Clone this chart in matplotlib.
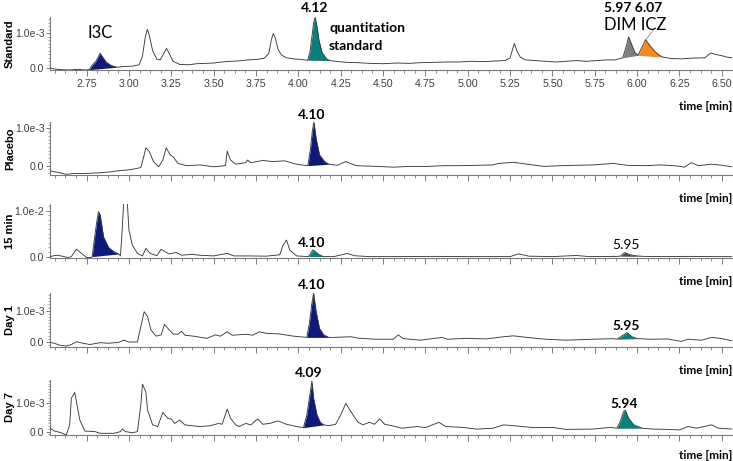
#!/usr/bin/env python
"""Stacked HPLC chromatograms: standard, placebo, 15 min, day 1, day 7."""

import matplotlib

matplotlib.use("Agg")
import matplotlib.pyplot as plt
import numpy as np
from matplotlib.ticker import FixedLocator, MultipleLocator

# signal in units of 1e-3 (15 min panel: 10 == 1.0e-2)
STANDARD_TRACE = [
    (2.53, 0.02), (2.56, -0.02), (2.60, -0.04), (2.65, -0.05), (2.70, -0.03), (2.74, -0.05),
    (2.765, -0.04), (2.785, 0.10), (2.805, 0.20), (2.818, 0.32), (2.830, 0.43), (2.845, 0.32),
    (2.865, 0.18), (2.895, 0.08), (2.93, 0.03), (2.97, 0.05), (3.02, 0.06), (3.06, 0.10),
    (3.08, 0.35), (3.095, 0.85), (3.108, 1.12), (3.12, 0.95), (3.14, 0.50), (3.165, 0.26),
    (3.185, 0.24), (3.205, 0.42), (3.222, 0.57), (3.24, 0.40), (3.26, 0.20), (3.30, 0.11),
    (3.35, 0.10), (3.40, 0.13), (3.45, 0.14), (3.50, 0.15), (3.55, 0.18), (3.60, 0.20),
    (3.65, 0.21), (3.70, 0.24), (3.75, 0.25), (3.80, 0.29), (3.825, 0.42), (3.840, 0.80),
    (3.852, 1.00), (3.865, 0.85), (3.88, 0.55), (3.90, 0.38), (3.93, 0.30), (3.97, 0.27),
    (4.02, 0.25), (4.055, 0.23), (4.068, 0.45), (4.080, 0.90), (4.090, 1.30), (4.099, 1.46),
    (4.110, 1.20), (4.122, 0.80), (4.140, 0.45), (4.165, 0.28), (4.185, 0.22), (4.22, 0.20),
    (4.28, 0.17), (4.35, 0.16), (4.42, 0.14), (4.50, 0.13), (4.58, 0.15), (4.65, 0.14),
    (4.72, 0.16), (4.80, 0.17), (4.88, 0.18), (4.95, 0.18), (5.02, 0.20), (5.10, 0.19),
    (5.17, 0.21), (5.22, 0.22), (5.25, 0.30), (5.265, 0.55), (5.275, 0.71), (5.29, 0.50),
    (5.31, 0.32), (5.34, 0.24), (5.40, 0.22), (5.46, 0.20), (5.52, 0.18), (5.58, 0.20),
    (5.64, 0.22), (5.70, 0.20), (5.76, 0.22), (5.82, 0.24), (5.87, 0.24), (5.915, 0.30),
    (5.934, 0.60), (5.950, 0.90), (5.970, 0.65), (5.987, 0.45), (6.005, 0.37), (6.028, 0.60),
    (6.050, 0.82), (6.075, 0.65), (6.105, 0.48), (6.128, 0.38), (6.152, 0.32), (6.20, 0.28),
    (6.26, 0.27), (6.32, 0.29), (6.40, 0.30), (6.435, 0.44), (6.46, 0.40), (6.50, 0.36),
    (6.53, 0.32), (6.56, 0.30),
]

PLACEBO_TRACE = [
    (2.534, -0.14), (2.58, -0.18), (2.63, -0.23), (2.68, -0.21), (2.73, -0.21), (2.78, -0.20),
    (2.83, -0.19), (2.88, -0.17), (2.93, -0.14), (2.98, -0.12), (3.03, -0.09), (3.07, -0.05),
    (3.085, 0.20), (3.10, 0.48), (3.12, 0.38), (3.145, 0.11), (3.175, -0.03), (3.20, 0.15),
    (3.22, 0.48), (3.243, 0.29), (3.26, 0.24), (3.29, 0.06), (3.34, 0.00), (3.42, 0.02),
    (3.50, -0.03), (3.57, 0.00), (3.58, 0.39), (3.60, 0.15), (3.63, 0.04), (3.69, 0.08),
    (3.70, 0.15), (3.72, 0.08), (3.79, 0.14), (3.85, 0.11), (3.92, 0.13), (3.97, 0.06),
    (4.00, 0.03), (4.056, 0.00), (4.072, 0.46), (4.082, 0.91), (4.092, 1.17), (4.105, 0.73),
    (4.125, 0.29), (4.155, 0.11), (4.18, 0.04), (4.23, 0.01), (4.28, 0.11), (4.34, 0.00),
    (4.40, -0.01), (4.47, -0.02), (4.56, -0.04), (4.66, -0.02), (4.76, -0.02), (4.86, 0.00),
    (4.95, 0.00), (5.05, 0.01), (5.15, 0.02), (5.18, 0.06), (5.27, 0.09), (5.35, 0.04),
    (5.45, -0.02), (5.55, 0.00), (5.64, 0.01), (5.74, 0.02), (5.86, 0.06), (5.94, 0.01),
    (6.04, 0.00), (6.14, 0.02), (6.24, -0.01), (6.28, -0.04), (6.32, 0.08), (6.36, 0.00),
    (6.44, 0.04), (6.50, 0.01), (6.56, -0.03),
]

MIN15_TRACE = [
    (2.534, 0.0), (2.57, 0.3), (2.60, 0.15), (2.64, -0.2), (2.66, 0.0), (2.69, 1.6),
    (2.72, 0.7), (2.75, -0.2), (2.775, -0.2), (2.783, 0.0), (2.795, 3.6), (2.81, 7.6),
    (2.82, 9.8), (2.83, 9.1), (2.85, 4.3), (2.88, 2.0), (2.91, 1.1), (2.94, 0.6), (2.95, 0.15),
    (2.96, 5.8), (2.97, 12.5), (2.99, 12.0), (3.00, 5.8), (3.02, 2.5), (3.05, 0.7), (3.08, 0.15),
    (3.10, 1.8), (3.125, 0.7), (3.165, 0.2), (3.19, 1.6), (3.21, 1.1), (3.24, 0.6), (3.28, 0.9),
    (3.31, 0.3), (3.37, 0.5), (3.42, 0.3), (3.50, 0.15), (3.58, 0.7), (3.62, 0.15), (3.71, 0.15),
    (3.81, 0.1), (3.89, 0.4), (3.91, 2.5), (3.93, 3.6), (3.95, 1.4), (3.99, 0.15), (4.06, 0.0),
    (4.085, 1.45), (4.10, 1.1), (4.125, 0.36), (4.15, 0.0), (4.21, 0.0), (4.29, 0.7),
    (4.33, 0.2), (4.42, 0.0), (4.60, 0.0), (4.80, 0.05), (5.00, 0.0), (5.25, 0.0), (5.30, 0.6),
    (5.36, 0.1), (5.50, 0.0), (5.64, 0.25), (5.72, 0.0), (5.88, 0.05), (5.90, 0.1),
    (5.926, 0.87), (5.96, 0.4), (6.00, 0.15), (6.04, 0.05), (6.15, 0.0), (6.30, 0.05),
    (6.45, 0.0), (6.56, 0.0),
]

DAY1_TRACE = [
    (2.534, -0.02), (2.56, -0.05), (2.59, -0.11), (2.63, -0.14), (2.66, -0.09), (2.69, 0.0),
    (2.73, -0.05), (2.77, -0.09), (2.83, -0.03), (2.88, -0.05), (2.94, -0.02), (2.97, 0.05),
    (3.00, -0.01), (3.05, -0.01), (3.07, 0.48), (3.09, 0.97), (3.11, 0.81), (3.13, 0.38),
    (3.16, 0.18), (3.19, 0.22), (3.21, 0.56), (3.23, 0.43), (3.26, 0.25), (3.29, 0.24),
    (3.31, 0.34), (3.33, 0.21), (3.38, 0.18), (3.46, 0.11), (3.51, 0.22), (3.54, 0.18),
    (3.58, 0.32), (3.61, 0.21), (3.69, 0.24), (3.73, 0.21), (3.77, 0.32), (3.81, 0.27),
    (3.89, 0.25), (3.97, 0.18), (4.05, 0.14), (4.065, 0.59), (4.08, 1.24), (4.09, 1.56),
    (4.105, 0.97), (4.125, 0.43), (4.15, 0.22), (4.18, 0.14), (4.21, 0.14), (4.31, 0.16),
    (4.36, 0.11), (4.46, 0.08), (4.56, 0.08), (4.59, 0.22), (4.62, 0.10), (4.72, 0.05),
    (4.85, 0.14), (4.88, 0.08), (4.99, 0.11), (5.11, 0.09), (5.21, 0.16), (5.27, 0.19),
    (5.35, 0.14), (5.46, 0.08), (5.58, 0.05), (5.74, 0.08), (5.86, 0.10), (5.88, 0.08),
    (5.92, 0.22), (5.94, 0.29), (5.97, 0.16), (6.00, 0.10), (6.08, 0.08), (6.18, 0.09),
    (6.26, 0.01), (6.30, 0.08), (6.38, 0.05), (6.44, 0.14), (6.49, 0.11), (6.56, 0.03),
]

DAY7_TRACE = [
    (2.534, 0.12), (2.56, 0.02), (2.60, -0.04), (2.63, -0.12), (2.65, 0.24), (2.66, 1.18),
    (2.68, 1.39), (2.69, 1.06), (2.71, 0.41), (2.74, 0.02), (2.80, 0.0), (2.83, -0.06),
    (2.91, -0.06), (2.95, 0.0), (2.96, 0.09), (2.98, 0.0), (3.02, -0.04), (3.05, 0.0),
    (3.07, 0.94), (3.08, 1.68), (3.10, 1.41), (3.11, 0.76), (3.14, 0.24), (3.17, 0.18),
    (3.20, 0.68), (3.23, 0.47), (3.25, 0.44), (3.27, 0.29), (3.30, 0.41), (3.33, 0.24),
    (3.37, 0.21), (3.42, 0.18), (3.48, 0.21), (3.53, 0.29), (3.55, 0.26), (3.58, 0.80),
    (3.60, 0.47), (3.63, 0.24), (3.65, 0.18), (3.69, 0.29), (3.72, 0.24), (3.76, 0.45),
    (3.79, 0.26), (3.83, 0.29), (3.88, 0.38), (3.93, 0.26), (3.99, 0.18), (4.03, 0.14),
    (4.05, 0.59), (4.065, 1.18), (4.08, 1.79), (4.09, 1.18), (4.11, 0.59), (4.13, 0.33),
    (4.15, 0.24), (4.18, 0.21), (4.22, 0.26), (4.25, 0.59), (4.28, 1.0), (4.31, 0.71),
    (4.35, 0.35), (4.38, 0.24), (4.42, 0.33), (4.45, 0.26), (4.48, 0.45), (4.51, 0.26),
    (4.56, 0.20), (4.61, 0.12), (4.70, 0.18), (4.75, 0.14), (4.83, 0.33), (4.87, 0.18),
    (4.97, 0.15), (5.05, 0.09), (5.15, 0.12), (5.21, 0.24), (5.29, 0.20), (5.39, 0.14),
    (5.50, 0.15), (5.58, 0.08), (5.74, 0.09), (5.84, 0.15), (5.88, 0.12), (5.90, 0.35),
    (5.92, 0.71), (5.93, 0.76), (5.95, 0.47), (5.98, 0.24), (6.03, 0.12), (6.09, 0.09),
    (6.17, 0.08), (6.25, 0.06), (6.30, 0.18), (6.35, 0.12), (6.44, 0.24), (6.48, 0.12),
    (6.56, 0.09),
]

NAVY = "#0c1a7c"
TEAL = "#08807b"
GREY = "#7f7f7f"
ORANGE = "#f58a1f"
DARK = "#4d4d4d"

# (start, end, colour) of shaded peaks
STANDARD_PEAKS = [(2.765, 2.93, NAVY), (4.055, 4.185, TEAL), (5.915, 6.005, GREY), (6.005, 6.152, ORANGE)]
PLACEBO_PEAKS = [(4.056, 4.18, NAVY)]
MIN15_PEAKS = [(2.783, 2.94, NAVY), (4.06, 4.15, TEAL), (5.90, 6.04, DARK)]
DAY1_PEAKS = [(4.05, 4.18, NAVY), (5.88, 6.00, TEAL)]
DAY7_PEAKS = [(4.03, 4.15, NAVY), (5.88, 6.03, TEAL)]

# retention-time labels: (x, y, text, weight)
STANDARD_LABELS = [(4.099, 1.72, "4.12", "bold"), (5.975, 1.72, "5.97 6.07", "bold")]
PLACEBO_LABELS = [(4.081, 1.36, "4.10", "bold")]
MIN15_LABELS = [(4.081, 2.98, "4.10", "bold"), (5.934, 2.54, "5.95", "normal")]
DAY1_LABELS = [(4.081, 1.83, "4.10", "bold"), (5.934, 0.51, "5.95", "bold")]
DAY7_LABELS = [(4.063, 2.07, "4.09", "bold"), (5.922, 0.98, "5.94", "bold")]

PANEL_NAMES = ["Standard", "Placebo", "15 min", "Day 1", "Day 7"]
PANEL_UNIT = ["1.0e-3", "1.0e-3", "1.0e-2", "1.0e-3", "1.0e-3"]

W, H = 733, 461
# pixel boxes (top, bottom) and y-limits per panel
PANEL_BOX = [(17, 70), (122, 175), (204, 258), (293, 347), (380, 435)]
PANEL_YLIM = [(-0.05, 1.47), (-0.25, 1.17), (-0.3, 11.45), (-0.17, 1.57), (-0.12, 1.83)]
TIME_LABEL_GAP = [26.5, 17, 17, 17, 15]

LABEL_FONT = ["Lato", "DejaVu Sans"]


def draw_panel(ax, trace, peaks, labels, ylim, unit):
    t = np.array([p[0] for p in trace])
    v = np.array([p[1] for p in trace])
    for start, end, colour in peaks:
        mask = (t >= start - 1e-9) & (t <= end + 1e-9)
        xs, ys = t[mask], v[mask]
        base = np.interp(xs, [xs[0], xs[-1]], [ys[0], ys[-1]])
        ax.fill_between(xs, base, ys, color=colour, linewidth=0, zorder=2)
    ax.plot(t, v, color="#3a3a3a", linewidth=0.65, zorder=3)
    for x, y, text, weight in labels:
        ax.text(x, y, text, ha="center", va="center", fontsize=10, fontweight=weight,
                family=LABEL_FONT, clip_on=False, zorder=4)

    ax.set_xlim(2.534, 6.56)
    ax.set_ylim(*ylim)
    major = 10 if unit == "1.0e-2" else 1
    ax.yaxis.set_major_locator(FixedLocator([0, major]))
    ax.set_yticklabels(["0.0", unit])
    ax.yaxis.set_minor_locator(MultipleLocator(major / 10))
    ax.xaxis.set_major_locator(MultipleLocator(0.25))
    ax.xaxis.set_minor_locator(MultipleLocator(0.0625))
    for side in ("top", "right"):
        ax.spines[side].set_visible(False)
    for side in ("left", "bottom"):
        ax.spines[side].set_color("#7a7a7a")
        ax.spines[side].set_linewidth(0.8)
    ax.tick_params(axis="x", which="major", length=4, width=0.7, color="#7a7a7a",
                   labelsize=7.7, labelcolor="#404040", pad=2.5)
    ax.tick_params(axis="x", which="minor", length=2.3, width=0.6, color="#7a7a7a")
    ax.tick_params(axis="y", which="major", length=3, width=0.7, color="#7a7a7a",
                   labelsize=7.5, labelcolor="#404040", pad=1)
    ax.tick_params(axis="y", which="minor", length=1.5, width=0.5, color="#7a7a7a")
    ax.patch.set_alpha(0)


def main():
    plt.rcParams["font.family"] = ["Liberation Sans", "DejaVu Sans"]
    fig = plt.figure(figsize=(W / 100, H / 100), dpi=100)

    traces = [STANDARD_TRACE, PLACEBO_TRACE, MIN15_TRACE, DAY1_TRACE, DAY7_TRACE]
    peaks = [STANDARD_PEAKS, PLACEBO_PEAKS, MIN15_PEAKS, DAY1_PEAKS, DAY7_PEAKS]
    labels = [STANDARD_LABELS, PLACEBO_LABELS, MIN15_LABELS, DAY1_LABELS, DAY7_LABELS]

    left, right = 50, 732
    axes = []
    for i, (top, bottom) in enumerate(PANEL_BOX):
        ax = fig.add_axes([left / W, 1 - bottom / H, (right - left) / W, (bottom - top) / H])
        draw_panel(ax, traces[i], peaks[i], labels[i], PANEL_YLIM[i], PANEL_UNIT[i])
        if i > 0:
            ax.tick_params(axis="x", labelbottom=False)
        else:
            ax.xaxis.set_major_formatter(lambda x, pos: f"{x:.2f}")
        ax.annotate("time [min]", xy=(1, 0), xycoords="axes fraction",
                    xytext=(0, -TIME_LABEL_GAP[i]), textcoords="offset points",
                    ha="right", va="center", fontsize=8.5, fontweight="bold",
                    family=LABEL_FONT)
        fig.text(10 / W, 1 - (top + bottom) / 2 / H, PANEL_NAMES[i], rotation=90,
                 ha="center", va="center", fontsize=8, fontweight="bold")
        axes.append(ax)

    std = axes[0]
    std.text(2.828, 1.01, "I3C", ha="center", va="center", fontsize=12, family=LABEL_FONT)
    std.text(4.181, 1.15, "quantitation", ha="left", va="center", fontsize=10,
             fontweight="bold", family=LABEL_FONT)
    std.text(4.181, 0.63, "standard", ha="left", va="center", fontsize=10,
             fontweight="bold", family=LABEL_FONT)
    std.text(5.987, 1.24, "DIM ICZ", ha="center", va="center", fontsize=12, family=LABEL_FONT,
             clip_on=False)
    std.plot([6.093, 6.052], [1.08, 0.82], color="#8a8a8a", linewidth=0.6, clip_on=False)

    fig.savefig("out.png", dpi=100)
    plt.close(fig)


if __name__ == "__main__":
    main()
